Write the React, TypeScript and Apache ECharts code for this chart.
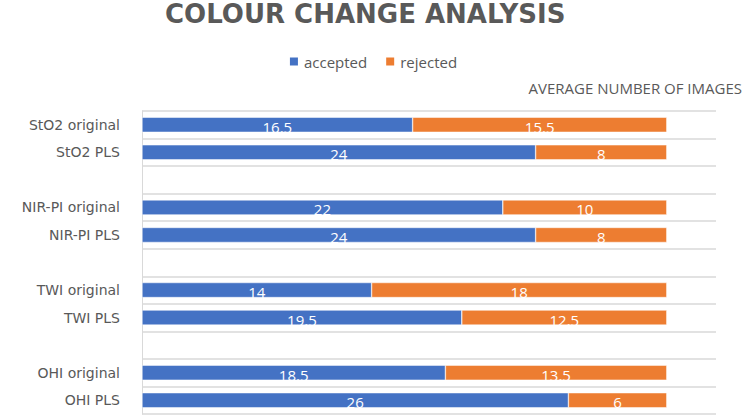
import React, { useEffect, useRef } from "react";
import * as echarts from "echarts";

const categories = [
  "StO2 original",
  "StO2 PLS",
  " ",
  "NIR-PI original",
  "NIR-PI PLS",
  "  ",
  "TWI original",
  "TWI PLS",
  "   ",
  "OHI original",
  "OHI PLS",
];
const accepted = [16.5, 24, null, 22, 24, null, 14, 19.5, null, 18.5, 26];
const rejected = [15.5, 8, null, 10, 8, null, 18, 12.5, null, 13.5, 6];
const seriesNames = ["accepted", "rejected"];
const titleText = "COLOUR CHANGE ANALYSIS";
const axisTitle = "AVERAGE NUMBER OF IMAGES";

export default function App() {
  const ref = useRef<HTMLDivElement>(null);
  useEffect(() => {
    document.body.style.margin = "0";
    const chart = echarts.init(ref.current!, null, { renderer: "svg" });
    const font = "'Open Sans', sans-serif";
    const labelStyle = {
      show: true,
      position: "inside",
      color: "#ffffff",
      fontSize: 15,
      fontFamily: font,
      offset: [0, 2],
    };
    chart.setOption({
      animation: false,
      backgroundColor: "#ffffff",
      title: {
        text: titleText,
        left: 160,
        top: -4,
        textStyle: {
          color: "#595959",
          fontSize: 26,
          fontWeight: "bold",
          fontFamily: "'DejaVu Sans', sans-serif",
        },
      },
      legend: {
        data: seriesNames,
        top: 49,
        left: "center",
        icon: "rect",
        itemWidth: 10,
        itemHeight: 10,
        itemGap: 17,
        textStyle: { color: "#595959", fontSize: 15, fontFamily: font },
      },
      graphic: [
        {
          type: "text",
          right: 3,
          top: 80,
          style: {
            text: axisTitle,
            fill: "#595959",
            fontSize: 15,
            fontFamily: font,
          },
        },
      ],
      grid: { left: 142, top: 111, right: 29, bottom: 3, containLabel: false },
      xAxis: {
        type: "value",
        min: 0,
        max: 35,
        show: false,
        splitLine: { show: false },
      },
      yAxis: {
        type: "category",
        data: categories,
        inverse: true,
        axisLine: { show: true, lineStyle: { color: "#d9d9d9", width: 1 } },
        axisTick: { show: false },
        axisLabel: {
          color: "#595959",
          fontSize: 14,
          fontFamily: "'DejaVu Sans', sans-serif",
          margin: 22,
        },
        splitLine: { show: true, lineStyle: { color: "#d9d9d9", width: 1.5 } },
      },
      series: [
        {
          name: seriesNames[0],
          type: "bar",
          stack: "total",
          data: accepted,
          barWidth: 15,
          itemStyle: { color: "#4472C4", borderColor: "#ffffff", borderWidth: 0.5 },
          label: labelStyle,
        },
        {
          name: seriesNames[1],
          type: "bar",
          stack: "total",
          data: rejected,
          barWidth: 15,
          itemStyle: { color: "#ED7D31", borderColor: "#ffffff", borderWidth: 0.5 },
          label: labelStyle,
        },
      ],
    });
    return () => chart.dispose();
  }, []);
  return (
    <div
      ref={ref}
      style={{ width: 745, height: 417, position: "absolute", left: 0, top: 0 }}
    />
  );
}
